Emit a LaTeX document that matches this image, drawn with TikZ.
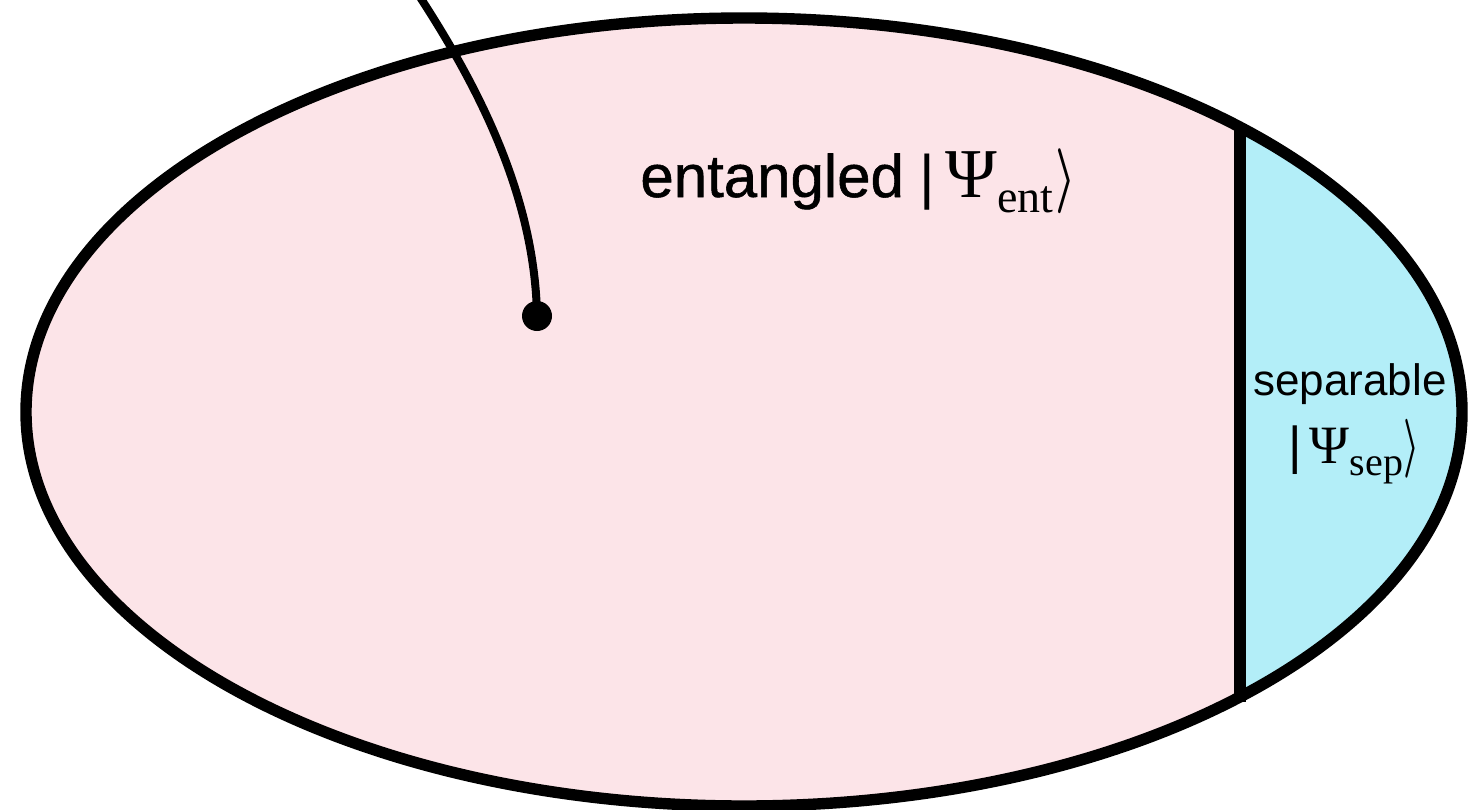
\documentclass[tikz,border=0pt]{standalone}
\usepackage{fontspec}
\setmainfont{Liberation Sans}
\newfontfamily\tnr{Liberation Serif}
\newfontfamily\sansbold[FakeBold=0.9]{Liberation Sans}
\definecolor{pinkfill}{HTML}{FCE4E8}
\definecolor{cyanfill}{HTML}{B3EEF8}
\tikzset{
  outline/.style={line width=5.7pt, draw=black},
  wire/.style={line width=4pt, draw=black},
  dotnode/.style={circle, fill=black, inner sep=0pt, minimum size=15pt},
  lbl/.style={inner sep=0pt, text=black}
}
\begin{document}
\begin{tikzpicture}[x=0.5pt,y=-0.5pt]
\useasboundingbox (0,0) rectangle (1478,809);
\begin{scope}
\clip (0,0) rectangle (1478,809);
\fill[pinkfill] (744,412) ellipse [x radius=359pt, y radius=197pt];
\begin{scope}
\clip (744,412) ellipse [x radius=359pt, y radius=197pt];
\fill[cyanfill] (1240,0) rectangle (1478,830);
\end{scope}
\coordinate (vtop) at (1240,127);
\coordinate (vbot) at (1240,702);
\draw[outline] (vtop) -- (vbot);
\draw[outline] (744,412) ellipse [x radius=359pt, y radius=197pt];
\node[dotnode] (dot) at (537,316) {};
\coordinate (start) at (412,-15);
\draw[wire] (start) .. controls (482,90) and (535,200) .. (dot.center);
\end{scope}
\node[lbl, anchor=base west] (ent) at (640,197)
  {{\fontsize{30}{36}\sansbold entangled}\hspace{8pt}{\fontsize{30}{36}\selectfont |}\hspace{5pt}{\fontsize{35}{40}\tnr Ψ}\raisebox{-7.5pt}{\fontsize{23}{26}\tnr ent}\hspace{1pt}\scalebox{2.3}[3.25]{\boldmath$\rangle$}};
\node[lbl, anchor=base] (sep1) at (1350,395)
  {\fontsize{22}{26}\selectfont separable};
\node[lbl, anchor=base west] (sep2) at (1288,463)
  {{\fontsize{26}{30}\selectfont |}\hspace{4pt}{\fontsize{27}{30}\tnr Ψ}\raisebox{-6pt}{\fontsize{20}{24}\tnr sep}\scalebox{1.8}[2.95]{\boldmath$\rangle$}};
\end{tikzpicture}
\end{document}
